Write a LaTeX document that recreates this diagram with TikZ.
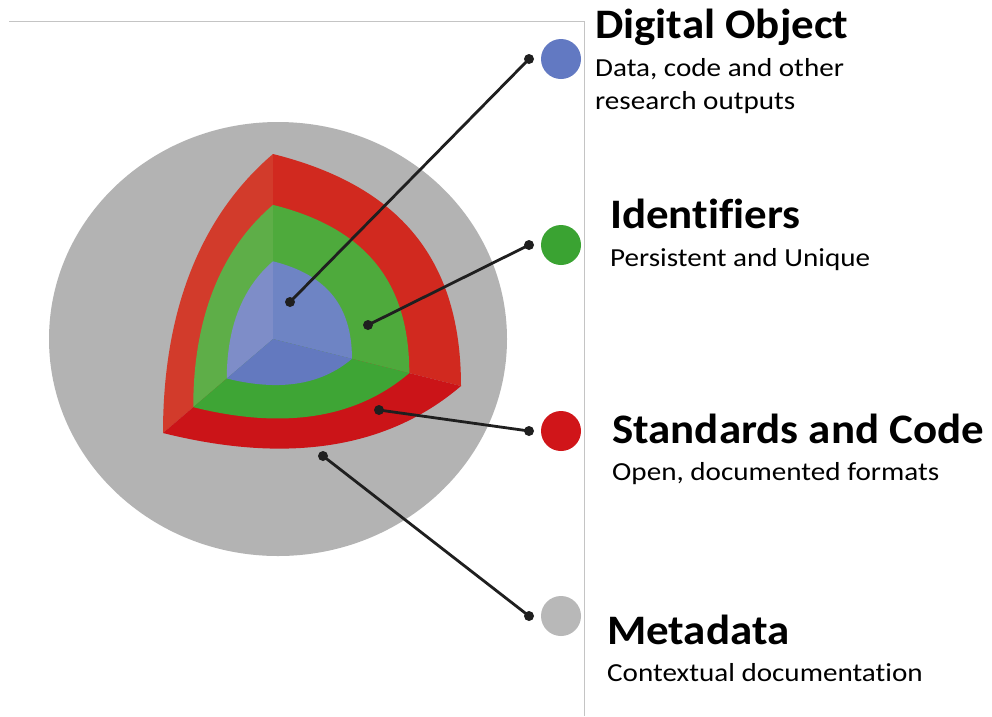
\documentclass[tikz,border=0pt]{standalone}
\usepackage{fontspec}
\setmainfont{Carlito}
\newfontfamily\ttlfont{Carlito}[FakeStretch=1.07, Ligatures=NoCommon]
\newfontfamily\subfont{Carlito}[FakeStretch=1.12, Ligatures=NoCommon]
\definecolor{gbg}{HTML}{B3B3B3}
\definecolor{rL}{HTML}{D23B2B}
\definecolor{rR}{HTML}{D1291F}
\definecolor{rB}{HTML}{CB1418}
\definecolor{gL}{HTML}{5EAE48}
\definecolor{gR}{HTML}{4EAA3C}
\definecolor{gB}{HTML}{3EA535}
\definecolor{bL}{HTML}{7E8DC8}
\definecolor{bR}{HTML}{6E84C4}
\definecolor{bB}{HTML}{6379BF}
\definecolor{dotB}{HTML}{6279C2}
\definecolor{dotG}{HTML}{3AA332}
\definecolor{dotR}{HTML}{D01519}
\definecolor{dotM}{HTML}{B8B8B8}
\definecolor{frame}{HTML}{C4C4C4}
% one layer of the cut sphere: #1 scale, #2 #3 #4 colours (left, right, bottom face)
\newcommand\octlayer[4]{%
  \begin{scope}[shift={(273,339)}, scale=#1]
    \fill[#2] (0,0) -- (0,-185) .. controls (-72.6,-123) and (-110,-28.1) .. (-110,94) -- cycle;
    \fill[#3] (0,0) -- (0,-185) .. controls (127.8,-153) and (188,-78.8) .. (188,47) -- cycle;
    \fill[#4] (0,0) -- (-110,94) .. controls (8.4,123.6) and (111,112.8) .. (188,47) -- cycle;
  \end{scope}
}
\tikzset{
  leaddot/.style={circle, fill=black!88, minimum size=10pt, inner sep=0pt},
  lead/.style={draw=black!88, line width=2.8pt},
  keydot/.style={circle, minimum size=40pt, inner sep=0pt},
  ttl/.style={anchor=base west, inner sep=0pt, font=\ttlfont\fontsize{42}{50}\selectfont\bfseries},
  sub/.style={anchor=base west, inner sep=0pt, font=\subfont\fontsize{26}{33}\selectfont},
}
\begin{document}
\begin{tikzpicture}[x=1pt,y=-1pt]
\useasboundingbox (0,0) rectangle (992,716);
\fill[white] (0,0) rectangle (992,716);
% frame
\draw[frame, line width=1pt] (9,21) -- (584,21) -- (584,716);
% grey sphere
\fill[gbg] (278,339) ellipse[x radius=229, y radius=217];
% layers
\octlayer{1}{rL}{rR}{rB}
\octlayer{0.725}{gL}{gR}{gB}
\octlayer{0.42}{bL}{bR}{bB}
% leader dots
\node[leaddot] (p1) at (290,302) {};
\node[leaddot] (q1) at (529,59) {};
\node[leaddot] (p2) at (368,325) {};
\node[leaddot] (q2) at (529,245) {};
\node[leaddot] (p3) at (379,410) {};
\node[leaddot] (q3) at (529,431) {};
\node[leaddot] (p4) at (323,456) {};
\node[leaddot] (q4) at (529,616) {};
\draw[lead] (p1.center) -- (q1.center);
\draw[lead] (p2.center) -- (q2.center);
\draw[lead] (p3.center) -- (q3.center);
\draw[lead] (p4.center) -- (q4.center);
% key dots
\node[keydot, fill=dotB] (k1) at (561,59) {};
\node[keydot, fill=dotG] (k2) at (561,245) {};
\node[keydot, fill=dotR] (k3) at (561,431) {};
\node[keydot, fill=dotM] (k4) at (561,616) {};
% texts
\node[ttl] (t1) at (595,38) {Digital Object};
\node[sub] (s1a) at (595,76) {Data, code and other};
\node[sub] (s1b) at (595,109) {research outputs};
\node[ttl] (t2) at (610,228) {Identifiers};
\node[sub] (s2) at (610,266) {Persistent and Unique};
\node[ttl] (t3) at (612,443) {Standards and Code};
\node[sub] (s3) at (612,480) {Open, documented formats};
\node[ttl] (t4) at (607,644) {Metadata};
\node[sub] (s4) at (607,681) {Contextual documentation};
\end{tikzpicture}
\end{document}
